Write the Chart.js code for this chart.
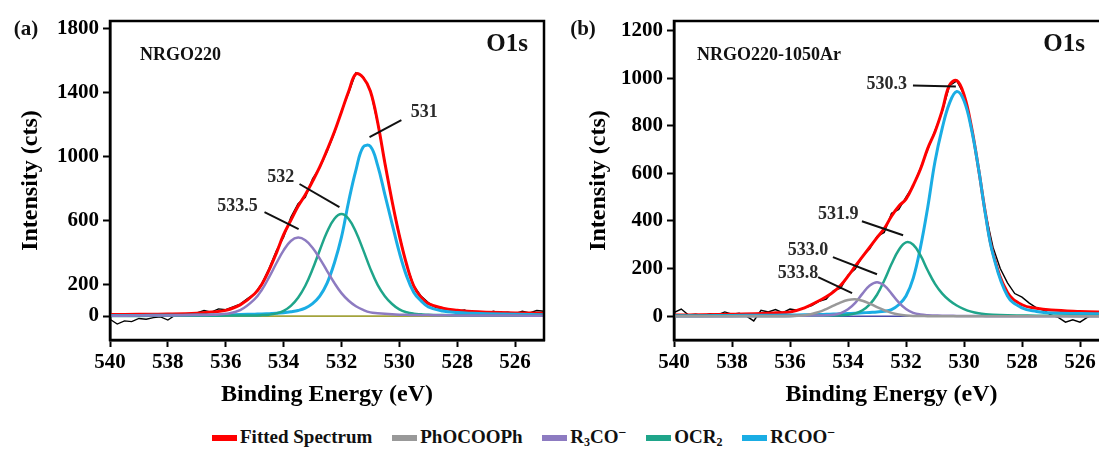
<!DOCTYPE html>
<html>
<head>
<meta charset="utf-8">
<script src="https://cdn.jsdelivr.net/npm/chart.js@4.4.1/dist/chart.umd.min.js"></script>
<style>
body{margin:0;width:1099px;height:452px;overflow:hidden;background:#fff;position:relative;font-family:"Liberation Serif","Times New Roman",serif;}
.panel{position:absolute;top:0;width:560px;height:420px;}
#legend{position:absolute;top:425px;left:212px;font-weight:bold;font-size:19px;white-space:nowrap;color:#111;}
.item{display:inline-block;margin-right:15px;}
.sw{display:inline-block;width:25px;height:6px;vertical-align:middle;margin-right:3px;position:relative;top:-1px;}
sub{font-size:12px;vertical-align:-3px;}
sup{font-size:14px;vertical-align:6px;}
</style>
</head>
<body>
<div class="panel" style="left:0"><canvas id="chartA"></canvas></div>
<div class="panel" style="left:560px"><canvas id="chartB"></canvas></div>
<div id="legend">
  <span class="item"><span class="sw" style="background:#ff0000"></span>Fitted Spectrum</span>
  <span class="item"><span class="sw" style="background:#999999"></span>PhOCOOPh</span>
  <span class="item"><span class="sw" style="background:#8d7bc1"></span>R<sub>3</sub>CO<sup>−</sup></span>
  <span class="item"><span class="sw" style="background:#1fa58a"></span>OCR<sub>2</sub></span>
  <span class="item"><span class="sw" style="background:#1aade4"></span>RCOO<sup>−</sup></span>
</div>
<script>
// binding energy grid (eV) for the fitted curves
const energy = [540,539,538,537,536.5,536,535.5,535,534.75,534.5,534.25,534,533.75,533.5,533.25,533,532.75,532.5,532.25,532,531.75,531.5,531.25,531,530.75,530.5,530.25,530,529.75,529.5,529.25,529,528.5,528,527.5,527,526,525];
// raw spectrum grid
const rawEnergy = [540,539.75,539.5,539.25,539,538.75,538.5,538.25,538,537.75,537.5,537.25,537,536.75,536.5,536.25,536,535.75,535.5,535.25,535,534.75,534.5,534.25,534,533.75,533.5,533.25,533,532.75,532.5,532.25,532,531.75,531.5,531.25,531,530.75,530.5,530.25,530,529.75,529.5,529.25,529,528.75,528.5,528.25,528,527.75,527.5,527.25,527,526.75,526.5,526.25,526,525.75,525.5,525.25,525];
const baseEnergy = [540,525];
const baseLine = [0,0];

const xTicks = [540,538,536,534,532,530,528,526];
const yTicksA = [0,200,600,1000,1400,1800];
const yTicksB = [0,200,400,600,800,1000,1200];

// (a) NRGO220
const fitA = [10,11,13,18,25,36,70,140,200,290,395,510,600,688,760,845,935,1040,1152,1280,1410,1518,1495,1410,1215,960,720,505,325,188,118,78,50,36,28,24,20,18];
const r3coA = [2,3,4,6,8,14,37,106,165,244,331,412,471,492,475,428,360,284,209,144,96,62,39,23,18,14,11,9,8,7,6,6,5,4,4,3,3,2];
const ocr2A = [1,1,2,2,2,3,3,4,6,9,17,33,64,115,190,293,413,527,609,640,609,527,415,296,196,125,76,42,24,15,11,8,6,5,4,4,3,2];
const rcooA = [3,4,5,6,7,8,10,12,13,15,17,21,27,35,50,78,125,205,330,495,720,915,1060,1064,945,762,578,399,252,148,95,58,32,22,17,14,11,9];
const rawA = [-20,-50,-30,-35,-15,-20,-10,-5,-25,5,8,12,20,35,25,45,40,58,75,110,140,205,300,410,495,620,705,745,860,930,1030,1145,1285,1400,1525,1500,1415,1210,965,715,510,320,190,125,85,55,45,40,30,38,20,18,15,30,20,25,15,30,20,35,30];

// (b) NRGO220-1050Ar
const fitB = [5,6,8,11,14,18,35,65,82,102,130,168,210,250,290,330,368,420,462,492,550,618,705,775,865,970,990,930,800,620,425,265,100,48,33,26,20,16];
const phB = [0,0,0,0,0,1,4,18,30,44,58,68,71,65,53,38,25,14,7,3,1,1,0,0,0,0,0,0,0,0,0,0,0,0,0,0,0,0];
const r3coB = [0,0,0,1,1,1,2,3,4,6,13,29,56,95,129,143,129,95,58,30,14,7,4,3,2,2,1,1,1,1,0,0,0,0,0,0,0,0];
const ocr2B = [1,1,1,1,1,1,2,2,2,3,4,6,12,25,50,90,150,219,278,310,300,255,192,136,95,66,45,30,19,12,8,6,4,3,2,2,1,1];
const rcooB = [2,2,3,4,4,5,6,7,8,9,10,11,12,14,16,18,21,28,48,85,160,290,458,650,790,895,944,905,790,620,420,260,85,35,20,13,11,10];
const rawB = [15,30,5,8,2,10,5,18,8,12,0,-20,25,18,28,15,30,25,35,45,62,72,108,118,172,198,252,283,335,352,432,448,500,548,622,700,780,860,968,988,932,795,615,430,290,200,140,95,80,55,35,25,5,-5,-25,-15,-25,-5,10,-5,5];

const serif = '"Liberation Serif", "Times New Roman", serif';

function pts(xs, ys){
  return xs.map((x,i)=>({x:x, y:ys[i]}));
}

const framePlugin = {
  id:'frame',
  afterDraw(chart, args, o){
    const ctx = chart.ctx, a = chart.chartArea;
    const sx = chart.scales.x, sy = chart.scales.y;
    ctx.save();
    ctx.strokeStyle = '#000';
    ctx.lineWidth = 2.5;
    ctx.strokeRect(a.left, a.top, a.right-a.left, a.bottom-a.top);

    // peak labels with leader lines
    ctx.lineWidth = 2;
    ctx.strokeStyle = '#111';
    ctx.fillStyle = '#2a2a2a';
    ctx.font = 'bold 18px ' + serif;
    ctx.textAlign = 'center';
    ctx.textBaseline = 'middle';
    o.notes.forEach(n=>{
      ctx.beginPath();
      ctx.moveTo(sx.getPixelForValue(n.from[0]), sy.getPixelForValue(n.from[1]));
      ctx.lineTo(sx.getPixelForValue(n.to[0]), sy.getPixelForValue(n.to[1]));
      ctx.stroke();
      ctx.fillText(n.text, sx.getPixelForValue(n.at[0]), sy.getPixelForValue(n.at[1]));
    });

    ctx.fillStyle = '#111';
    ctx.textAlign = 'left';
    ctx.font = 'bold 18px ' + serif;
    ctx.fillText(o.sample, a.left + o.sampleDx, a.top + 34);
    ctx.textAlign = 'right';
    ctx.font = 'bold 25px ' + serif;
    ctx.fillText('O1s', a.right - o.o1sDx, a.top + 24);
    ctx.textAlign = 'center';
    ctx.font = 'bold 21px ' + serif;
    ctx.fillText(o.letter, o.letterX, 30);
    ctx.restore();
  }
};

function makePanel(id, p){
  const sets = p.series.map(s=>({
    data: pts(energy, s.values),
    borderColor: s.color,
    borderWidth: s.width || 2.5,
    order: s.order,
    tension: 0.4
  }));
  sets.push({data: pts(rawEnergy, p.raw), borderColor:'#000', borderWidth:1.4, tension:0, order:3});
  sets.push({data: pts(baseEnergy, baseLine), borderColor:p.baseColor, borderWidth:1.6, tension:0, order:4});

  new Chart(document.getElementById(id), {
    type:'line',
    data:{datasets:sets},
    plugins:[framePlugin],
    options:{
      responsive:true,
      maintainAspectRatio:false,
      animation:false,
      elements:{point:{radius:0}, line:{fill:false}},
      layout:{padding:{left:0, top:21, right:p.padRight, bottom:10}},
      plugins:{
        legend:{display:false},
        tooltip:{enabled:false},
        frame:{notes:p.notes, sample:p.sample, sampleDx:p.sampleDx, o1sDx:p.o1sDx, letter:p.letter, letterX:p.letterX}
      },
      scales:{
        x:{
          type:'linear', reverse:true, min:525, max:540,
          afterBuildTicks(s){ s.ticks = xTicks.map(v=>({value:v})); },
          afterFit(s){ s.height = 70; s.paddingLeft = 0; s.paddingRight = 0; },
          grid:{drawOnChartArea:false, drawTicks:true, tickLength:7, tickWidth:2, color:'#000'},
          border:{display:true, color:'#000', width:2.5},
          ticks:{color:'#000', padding:3, maxRotation:0, callback:v=>String(v), font:{family:serif, size:21, weight:'bold'}},
          title:{display:true, text:'Binding Energy (eV)', color:'#000', padding:{top:0, bottom:1}, font:{family:serif, size:24, weight:'bold'}}
        },
        y:{
          type:'linear', min:p.yMin, max:p.yMax,
          afterBuildTicks(s){ s.ticks = p.yTicks.map(v=>({value:v})); },
          afterFit(s){ s.width = p.axisW; },
          grid:{drawOnChartArea:false, drawTicks:true, tickLength:7, tickWidth:2, color:'#000'},
          border:{display:true, color:'#000', width:2.5},
          ticks:{color:'#000', padding:4, callback:v=>String(v), font:{family:serif, size:21, weight:'bold'}},
          title:{display:true, text:'Intensity (cts)', color:'#000', padding:{top:p.titlePad, bottom:0}, font:{family:serif, size:24, weight:'bold'}}
        }
      }
    }
  });
}

makePanel('chartA', {
  series:[
    {values:fitA, color:'#ff0000', width:3, order:2},
    {values:r3coA, color:'#8d7bc1', order:1},
    {values:ocr2A, color:'#1fa58a', order:1},
    {values:rcooA, color:'#1aade4', width:3, order:1}
  ],
  raw:rawA, baseColor:'#a3a33c',
  yMin:-150, yMax:1850, yTicks:yTicksA, axisW:110, titlePad:16, padRight:16,
  sample:'NRGO220', sampleDx:30, o1sDx:16, letter:'(a)', letterX:26,
  notes:[
    {text:'531', at:[529.14,1279], from:[531.03,1122], to:[529.93,1229]},
    {text:'532', at:[534.10,871], from:[533.45,828], to:[532.07,683]},
    {text:'533.5', at:[535.59,690], from:[534.66,652], to:[533.48,545]}
  ]
});

makePanel('chartB', {
  series:[
    {values:fitB, color:'#ff0000', width:3, order:2},
    {values:phB, color:'#999999', order:1},
    {values:r3coB, color:'#8d7bc1', order:1},
    {values:ocr2B, color:'#1fa58a', order:1},
    {values:rcooB, color:'#1aade4', width:3, order:1}
  ],
  raw:rawB, baseColor:'#4a4aa8',
  yMin:-100, yMax:1240, yTicks:yTicksB, axisW:114, titlePad:24, padRight:11,
  sample:'NRGO220-1050Ar', sampleDx:23, o1sDx:24, letter:'(b)', letterX:23,
  notes:[
    {text:'530.3', at:[532.66,974], from:[531.76,969], to:[530.28,965]},
    {text:'531.9', at:[534.34,428], from:[533.52,399], to:[532.10,340]},
    {text:'533.0', at:[535.38,277], from:[534.52,248], to:[533.0,176]},
    {text:'533.8', at:[535.72,180], from:[535.03,164], to:[533.86,97]}
  ]
});
</script>
</body>
</html>
